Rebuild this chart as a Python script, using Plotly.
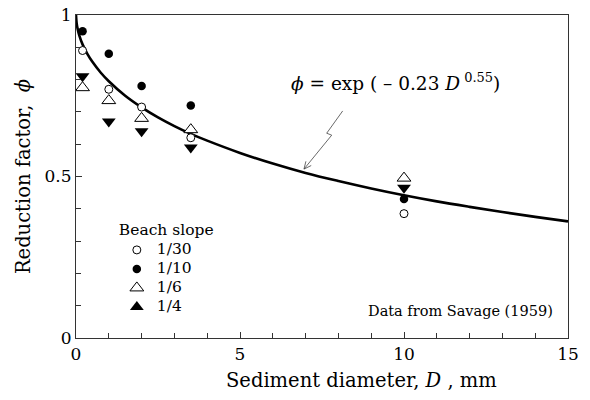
import plotly.graph_objects as go

# Data
D = [0.2, 1, 2, 3.5, 10]
slope_1_30 = [0.89, 0.77, 0.715, 0.62, 0.385]
slope_1_10 = [0.95, 0.88, 0.78, 0.72, 0.43]
slope_1_6 = [0.775, 0.735, 0.68, 0.645, 0.495]
slope_1_4 = [0.81, 0.67, 0.64, 0.59, 0.465]

curve_D = [0, 0.02, 0.05, 0.1, 0.2, 0.35, 0.5, 0.75, 1, 1.5, 2, 2.5, 3, 3.5, 4,
           5, 6, 7, 8, 9, 10, 11, 12, 13, 14, 15]
curve_phi = [1.0, 0.974, 0.957, 0.937, 0.909, 0.879, 0.855, 0.822, 0.795, 0.750,
             0.714, 0.683, 0.656, 0.632, 0.611, 0.573, 0.540, 0.511, 0.486, 0.463,
             0.442, 0.423, 0.406, 0.390, 0.375, 0.361]

legend_labels = ["1/30", "1/10", "1/6", "1/4"]
x_ticks = [0, 5, 10, 15]
y_ticks = [0, 0.5, 1]
y_ticktext = ["0", "0.5", "1"]

FONT = "DejaVu Serif, Liberation Serif, serif"
fig = go.Figure()

fig.add_trace(go.Scatter(x=curve_D, y=curve_phi, mode="lines",
                         line=dict(color="black", width=2.6, shape="spline"),
                         showlegend=False, hoverinfo="skip"))

series = [
    (slope_1_4, dict(symbol="triangle-down", size=12, color="black")),
    (slope_1_6, dict(symbol="triangle-up", size=12, color="white", line=dict(color="black", width=1))),
    (slope_1_10, dict(symbol="circle", size=8.5, color="black")),
    (slope_1_30, dict(symbol="circle", size=8, color="white", line=dict(color="black", width=1))),
]
for vals, mk in series:
    fig.add_trace(go.Scatter(x=D, y=vals, mode="markers", marker=mk, showlegend=False))

legend_markers = [
    dict(symbol="circle", size=8, color="white", line=dict(color="black", width=1)),
    dict(symbol="circle", size=8.5, color="black"),
    dict(symbol="triangle-up", size=12, color="white", line=dict(color="black", width=1)),
    dict(symbol="triangle-up", size=12, color="black"),
]
for lab, mk in zip(legend_labels, legend_markers):
    fig.add_trace(go.Scatter(x=[None], y=[None], mode="markers", marker=mk,
                             name='<span style="font-size:15.5px">%s</span>' % lab, showlegend=True))

# zigzag leader with open arrow head pointing at the curve
fig.add_shape(type="path", xref="x", yref="y",
              path="M 8.131 0.703 L 7.643 0.634 L 7.796 0.628 L 6.951 0.523 "
                   "M 7.171 0.534 L 6.951 0.523 L 7.009 0.547",
              line=dict(color="#444", width=0.8))

fig.add_annotation(x=9.73, y=0.793, xref="x", yref="y", showarrow=False,
                   text="<i>ϕ</i> = exp ( – 0.23 <i>D</i><sup> 0.55</sup>)",
                   font=dict(family=FONT, size=18.5, color="black"))
fig.add_annotation(x=14.61, y=0.084, xref="x", yref="y", showarrow=False, xanchor="right",
                   text="Data from Savage (1959)", font=dict(family=FONT, size=14.5, color="black"))

# x-axis title (placed slightly right of centre, as in the reference)
fig.add_annotation(x=0.58, y=-0.133, xref="paper", yref="paper", showarrow=False,
                   xanchor="center", yanchor="middle",
                   text="Sediment diameter, <i>D</i> , mm",
                   font=dict(family=FONT, size=19.5, color="black"))

axis_common = dict(showline=True, linecolor="#333", linewidth=1.2, mirror=True, ticks="inside",
                   tickcolor="#333", ticklen=6, showgrid=False, zeroline=False, automargin=False,
                   tickfont=dict(family=FONT, size=17, color="black"))

fig.update_xaxes(range=[0, 15], tickvals=x_ticks,
                 minor=dict(dtick=1, ticks="inside", ticklen=5, tickcolor="#333"),
                 **axis_common)
fig.update_yaxes(range=[0, 1], tickvals=y_ticks, ticktext=y_ticktext,
                 minor=dict(dtick=0.1, ticks="inside", ticklen=5, tickcolor="#333"),
                 title=dict(text="Reduction factor,  <i>ϕ</i>",
                            font=dict(family=FONT, size=19.5, color="black"), standoff=8),
                 **axis_common)

fig.update_layout(
    width=590, height=400,
    margin=dict(l=76, r=22, t=15, b=62, autoexpand=False),
    paper_bgcolor="white", plot_bgcolor="white",
    legend=dict(x=0.083, y=0.38, xanchor="left", yanchor="top", bgcolor="rgba(0,0,0,0)",
                title=dict(text="Beach slope", font=dict(family=FONT, size=15.5, color="black")),
                font=dict(family=FONT, size=11, color="black"), itemwidth=30, tracegroupgap=0),
)

fig.write_html("out.html", config={"displayModeBar": False},
               post_script="document.body.style.margin='0';")
